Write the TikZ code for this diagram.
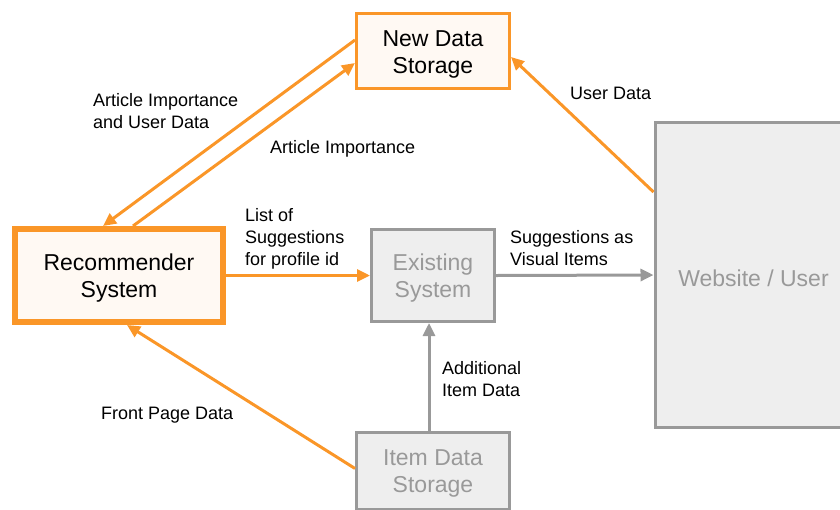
\documentclass[tikz,border=0pt]{standalone}
\usepackage{fontspec}
\setmainfont{Liberation Sans}
\usetikzlibrary{arrows.meta}
\definecolor{flowor}{RGB}{250,150,40}
\definecolor{flowgr}{RGB}{153,153,153}
\definecolor{orfill}{RGB}{255,249,243}
\definecolor{grfill}{RGB}{238,238,238}
\newcommand{\tallline}{\rule{0pt}{22.5pt}}
\begin{document}
\begin{tikzpicture}[x=1pt,y=-1pt,
    orangebox/.style={draw=flowor,fill=orfill,line width=3pt,align=center,
      font=\fontsize{23}{27}\selectfont},
    greybox/.style={draw=flowgr,fill=grfill,line width=3pt,align=center,
      text=flowgr,font=\fontsize{23}{27}\selectfont},
    flow/.style={line width=3pt,-{Triangle[length=13pt,width=12pt]}},
    lbl/.style={anchor=north west,inner sep=0pt,align=left,
      font=\fontsize{18}{22}\selectfont}]
  \clip (0,0) rectangle (840,509);
  % boxes
  \node[orangebox,minimum width=153pt,minimum height=75pt] (newdata) at (433,51) {\tallline New Data\\Storage};
  \node[orangebox,line width=6pt,minimum width=208pt,minimum height=93pt] (recsys) at (119,275.5) {\tallline Recommender\\System};
  \node[greybox,minimum width=123pt,minimum height=92pt] (existing) at (433,275.5) {\tallline Existing\\System};
  \node[greybox,minimum width=153pt,minimum height=77pt] (itemdata) at (433,470.5) {\tallline Item Data\\Storage};
  \node[greybox,minimum width=197pt,minimum height=305pt] (website) at (753.5,275) {\tallline Website / User};
  % connectors
  \draw[flow,flowor] ([yshift=11pt]newdata.west) -- ([xshift=-16pt]recsys.north);
  \draw[flow,flowor] ([xshift=14pt]recsys.north) -- ([yshift=-12pt]newdata.west);
  \draw[flow,flowor] (recsys.east) -- (existing.west);
  \draw[flow,flowgr] (existing.east) -- (website.west);
  \draw[flow,flowgr] ([xshift=-4pt]itemdata.north) -- ([xshift=-4pt]existing.south);
  \draw[flow,flowor] ([yshift=2pt]itemdata.west) -- ([xshift=8pt]recsys.south);
  \draw[flow,flowor] ([yshift=83pt]website.west) -- ([yshift=-6pt]newdata.east);
  % labels
  \node[lbl] (lbaiud) at (93,93) {Article Importance\\and User Data};
  \node[lbl] (lbai) at (270,140) {Article Importance};
  \node[lbl] (lblist) at (245,208) {List of\\Suggestions\\for profile id};
  \node[lbl] (lbvis) at (510,230) {Suggestions as\\Visual Items};
  \node[lbl] (lbadd) at (442,361) {Additional\\Item Data};
  \node[lbl] (lbfront) at (101,407) {Front Page Data};
  \node[lbl] (lbuser) at (570,87) {User Data};
\end{tikzpicture}
\end{document}
